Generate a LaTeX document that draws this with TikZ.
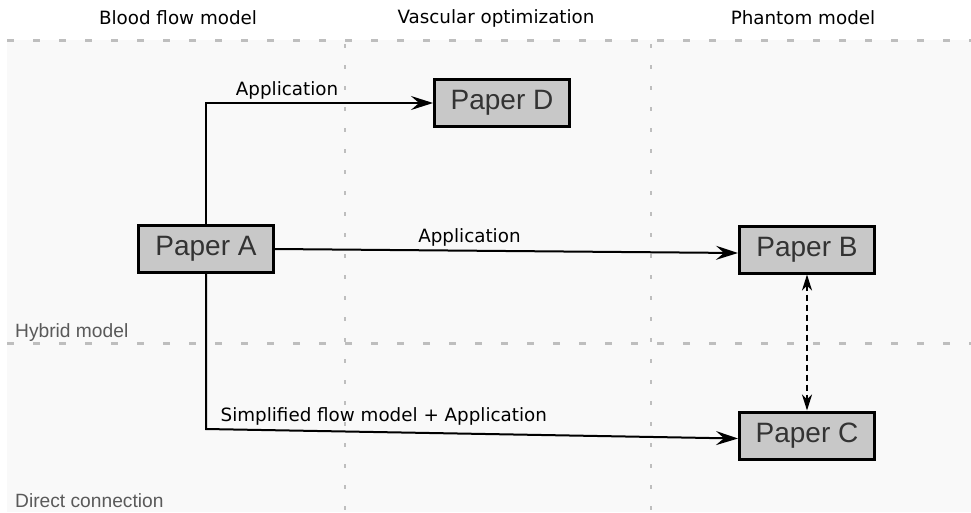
\documentclass[tikz,border=0pt]{standalone}
\usepackage{fontspec}
\setmainfont{DejaVu Sans}
\newfontfamily\boxfont{Liberation Sans}
\usepackage{tikz}
\usetikzlibrary{arrows.meta,positioning}
\definecolor{panelgrey}{RGB}{249,249,249}
\definecolor{gridgrey}{RGB}{190,190,190}
\definecolor{paperfill}{RGB}{200,200,200}
\definecolor{papertext}{RGB}{51,51,51}
\definecolor{rowtext}{RGB}{90,90,90}

\begin{document}
\begin{tikzpicture}[
    x=1pt, y=-1pt,
    paper/.style={rectangle, draw=black, fill=paperfill, line width=3pt, minimum width=135pt, minimum height=47pt, inner sep=0pt, text=papertext, font=\boxfont\fontsize{28}{32}\selectfont},
    colhead/.style={font=\fontsize{18.3}{21}\selectfont, text=black},
    rowlabel/.style={font=\boxfont\fontsize{19.2}{22}\selectfont, text=rowtext, inner sep=0pt},
    edgelabel/.style={font=\fontsize{18.3}{21}\selectfont, text=black, inner sep=3pt},
    hgrid/.style={draw=gridgrey, line width=3pt, dash pattern=on 7pt off 19pt},
    vgrid/.style={draw=gridgrey, line width=2pt, dash pattern=on 4pt off 17pt},
    link/.style={line width=2pt, -{Stealth[length=22pt,width=14pt,inset=8pt]}},
    bothway/.style={line width=2pt, dash pattern=on 6pt off 4pt, {Stealth[length=16pt,width=10pt,inset=5pt]}-{Stealth[length=16pt,width=10pt,inset=5pt]}}
]
    \useasboundingbox (0,0) rectangle (971,512);

    % panel and grid
    \fill[panelgrey] (7,40) rectangle (971,512);
    \draw[hgrid] (7,40) -- (971,40);
    \draw[hgrid] (7,343) -- (971,343);
    \draw[vgrid] (345,44) -- (345,512);
    \draw[vgrid] (651,44) -- (651,512);

    % column and row headings
    \node[colhead] (hflow) at (178,18) {Blood flow model};
    \node[colhead] (hvasc) at (496,18) {Vascular optimization};
    \node[colhead] (hphan) at (803,18) {Phantom model};
    \node[rowlabel, anchor=base west] (hybrid) at (15,337) {Hybrid model};
    \node[rowlabel, anchor=base west] (direct) at (15,507) {Direct connection};

    % papers
    \node[paper] (pA) at (206,249) {Paper A};
    \node[paper] (pD) at (502,103) {Paper D};
    \node[paper] (pB) at (807,249.5) {Paper B};
    \node[paper, below=136pt of pB] (pC) {Paper C};
    \coordinate (bend) at (pA.south |- 0,429);

    \draw[link] (pA.north) |- node[edgelabel, pos=0.8, anchor=south east] {Application} (pD.west);
    \draw[link] (pA.east) -- node[edgelabel, pos=0.42, above] {Application} ([yshift=-3.5pt]pB.west);
    \draw[link] (pA.south) -- (bend) -- node[edgelabel, pos=0.02, anchor=south west] {Simplified flow model + Application} ([yshift=-3pt]pC.west);
    \draw[bothway] (pB.south) -- (pC.north);
\end{tikzpicture}
\end{document}
